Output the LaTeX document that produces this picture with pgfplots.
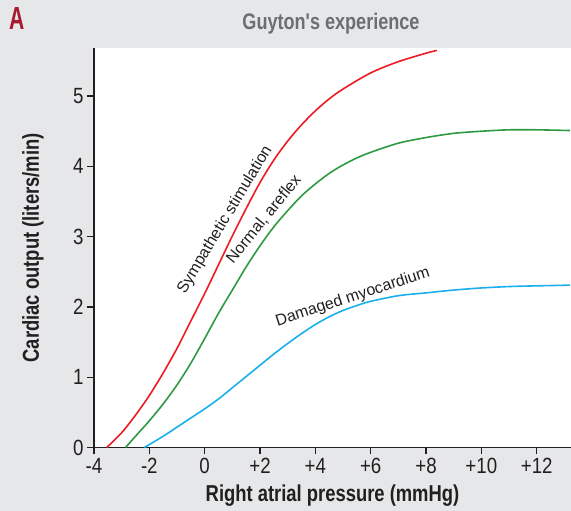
\documentclass[border=0pt]{standalone}
\usepackage{fontspec}
\setmainfont{Liberation Sans}
\newfontfamily\condfont{Liberation Sans}[FakeStretch=0.85]
\newfontfamily\condbfont{Liberation Sans Bold}[FakeStretch=0.8]
\newfontfamily\narrowbfont{Liberation Sans Bold}[FakeStretch=0.66]
\usepackage{pgfplots}
\pgfplotsset{compat=1.18}
\definecolor{bg}{HTML}{E6E7E8}
\definecolor{axc}{HTML}{231F20}
\definecolor{titc}{HTML}{6D6E71}
\definecolor{letc}{HTML}{A6192E}
\definecolor{cred}{HTML}{ED1C24}
\definecolor{cgreen}{HTML}{2E9A44}
\definecolor{cblue}{HTML}{1AB0EC}
\begin{document}
\begin{tikzpicture}
\fill[bg] (-94pt,-63.5pt) rectangle (477pt,447.5pt);
\path[use as bounding box] (-94pt,-63.5pt) rectangle (477pt,447.5pt);
\node[text=letc, font=\narrowbfont\fontsize{32}{32}\selectfont, inner sep=0pt] at (-77.3pt,428.8pt) {A};
\begin{axis}[
  at={(0,0)}, anchor=south west,
  scale only axis, width=477pt, height=399.2pt,
  xmin=-4, xmax=13.24, ymin=0, ymax=5.68,
  axis background/.style={fill=white},
  axis x line*=bottom, axis y line*=left,
  axis line style={draw=axc, line width=1.4pt, -},
  xtick={-4,-2,...,12},
  xticklabels={-4,-2,0,+2,+4,+6,+8,+10,+12},
  ytick={0,1,2,3,4,5},
  tick align=outside, major tick length=7pt,
  tick style={draw=axc, line width=1.4pt},
  ticklabel style={font=\condfont\fontsize{22}{22}\selectfont, text=axc},
  /pgf/number format/assume math mode=true,
  xlabel={Right atrial pressure (mmHg)},
  ylabel={Cardiac output (liters/min)},
  title={Guyton's experience},
  every axis x label/.style={at={(axis description cs:0.5,0)}, anchor=center, yshift=-48.5pt,
    font=\condbfont\fontsize{23}{23}\selectfont, text=axc},
  every axis y label/.style={at={(axis description cs:0,0.5)}, rotate=90, anchor=center, yshift=61pt,
    font=\condbfont\fontsize{23}{23}\selectfont, text=axc},
  every axis title/.style={at={(axis description cs:0.5,1)}, anchor=center, yshift=24.3pt, xshift=-1.5pt,
    font=\condbfont\fontsize{22.6}{22.6}\selectfont, text=titc},
  clip=false,
]
\addplot[cred, line width=1.6pt, smooth] coordinates {
(-3.54,0) (-3,0.21) (-2.5,0.46) (-2,0.74) (-1.5,1.06) (-1,1.41) (-0.5,1.80)
(0,2.19) (0.5,2.60) (1,3.01) (1.5,3.40) (2,3.77) (2.5,4.09) (3,4.36)
(3.5,4.59) (4,4.79) (4.5,4.96) (5,5.10) (6,5.33) (7,5.49) (8,5.61) (8.39,5.65)};
\addplot[cgreen, line width=1.6pt, smooth] coordinates {
(-2.86,0) (-2.5,0.16) (-2,0.38) (-1.5,0.62) (-1,0.89) (-0.5,1.20) (0,1.55)
(0.5,1.91) (1,2.24) (1.5,2.57) (2,2.87) (2.5,3.14) (3,3.37) (3.5,3.58)
(4,3.75) (4.5,3.90) (5,4.02) (5.5,4.12) (6,4.20) (7,4.33) (8,4.41)
(9,4.47) (10,4.50) (11,4.52) (12,4.52) (13.2,4.51)};
\addplot[cblue, line width=1.6pt, smooth] coordinates {
(-2.18,0) (-1.5,0.16) (-1,0.29) (-0.5,0.42) (0,0.55) (0.5,0.69) (1,0.85)
(1.5,1.01) (2,1.17) (2.5,1.33) (3,1.48) (3.5,1.62) (4,1.75) (4.5,1.86)
(5,1.95) (5.5,2.02) (6,2.08) (7,2.16) (8,2.20) (9,2.24) (10,2.27)
(11,2.29) (12,2.30) (13.2,2.31)};
\node[rotate=59, font=\fontsize{16}{16}\selectfont, text=axc] at (axis cs:0.74,3.24) {Sympathetic stimulation};
\node[rotate=51, font=\fontsize{16}{16}\selectfont, text=axc] at (axis cs:2.14,3.25) {Normal, areflex};
\node[rotate=18, anchor=base, font=\fontsize{16}{16}\selectfont, text=axc] at (axis cs:5.40,2.08) {Damaged myocardium};
\end{axis}
\end{tikzpicture}
\end{document}
